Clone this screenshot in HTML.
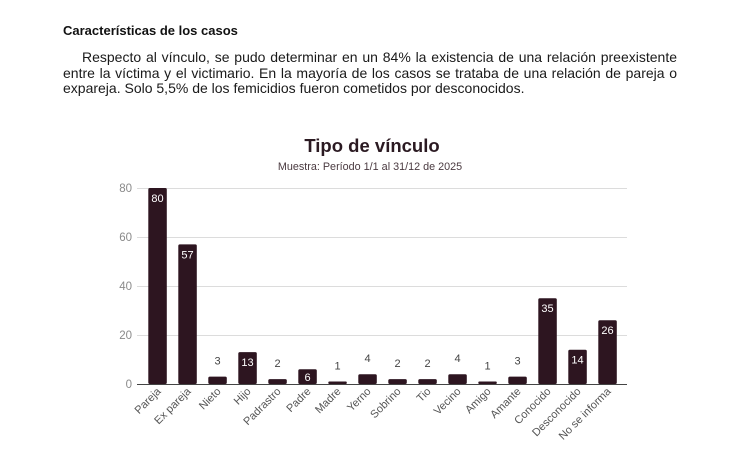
<!DOCTYPE html>
<html>
<head>
<meta charset="utf-8">
<style>
  html, body { margin: 0; padding: 0; background: #ffffff; }
  body { width: 730px; height: 467px; position: relative; overflow: hidden; font-family: "Liberation Sans", Arial, sans-serif; }
  .h { position: absolute; left: 63px; top: 23px; font-size: 13px; line-height: 15px; font-weight: bold; color: #111; white-space: nowrap; }
  .ln { position: absolute; font-size: 14px; line-height: 16px; color: #1a1a1a; white-space: nowrap; }
  .j { text-align: justify; text-align-last: justify; }
  svg { position: absolute; left: 0; top: 0; }
</style>
</head>
<body>
<div class="h">Características de los casos</div>
<div class="ln j" style="left:82px; top:49px; width:595px;">Respecto al vínculo, se pudo determinar en un 84% la existencia de una relación preexistente</div>
<div class="ln j" style="left:63px; top:64.5px; width:614px;">entre la víctima y el victimario. En la mayoría de los casos se trataba de una relación de pareja o</div>
<div class="ln" style="left:63px; top:80px;">expareja. Solo 5,5% de los femicidios fueron cometidos por desconocidos.</div>

<svg width="730" height="467" viewBox="0 0 730 467" xmlns="http://www.w3.org/2000/svg" font-family="Liberation Sans, Arial, sans-serif">
  <text x="372" y="152" text-anchor="middle" font-size="18.5" font-weight="bold" fill="#2b1a22">Tipo de vínculo</text>
  <text x="370" y="170" text-anchor="middle" font-size="10.8" fill="#4a3a40">Muestra: Período 1/1 al 31/12 de 2025</text>

  <!-- gridlines -->
  <g stroke="#dcdcdc" stroke-width="1">
    <line x1="137" y1="188.5" x2="627" y2="188.5"/>
    <line x1="137" y1="237.5" x2="627" y2="237.5"/>
    <line x1="137" y1="286.5" x2="627" y2="286.5"/>
    <line x1="137" y1="335.5" x2="627" y2="335.5"/>
  </g>

  <!-- y labels -->
  <g font-size="11.5" fill="#8a8a8a" text-anchor="end">
    <text x="132" y="192">80</text>
    <text x="132" y="241">60</text>
    <text x="132" y="290">40</text>
    <text x="132" y="339">20</text>
    <text x="132" y="388">0</text>
  </g>

  <!-- bars -->
  <g fill="#2d1520">
    <rect x="148.3" y="188" width="18.5" height="196" rx="1.5"/>
    <rect x="178.3" y="244.35" width="18.5" height="139.65" rx="1.5"/>
    <rect x="208.3" y="376.65" width="18.5" height="7.35" rx="1.5"/>
    <rect x="238.3" y="352.15" width="18.5" height="31.85" rx="1.5"/>
    <rect x="268.3" y="379.1" width="18.5" height="4.9" rx="1.5"/>
    <rect x="298.3" y="369.3" width="18.5" height="14.7" rx="1.5"/>
    <rect x="328.3" y="381.55" width="18.5" height="2.45" rx="1"/>
    <rect x="358.3" y="374.2" width="18.5" height="9.8" rx="1.5"/>
    <rect x="388.3" y="379.1" width="18.5" height="4.9" rx="1.5"/>
    <rect x="418.3" y="379.1" width="18.5" height="4.9" rx="1.5"/>
    <rect x="448.3" y="374.2" width="18.5" height="9.8" rx="1.5"/>
    <rect x="478.3" y="381.55" width="18.5" height="2.45" rx="1"/>
    <rect x="508.3" y="376.65" width="18.5" height="7.35" rx="1.5"/>
    <rect x="538.3" y="298.25" width="18.5" height="85.75" rx="1.5"/>
    <rect x="568.3" y="349.7" width="18.5" height="34.3" rx="1.5"/>
    <rect x="598.3" y="320.3" width="18.5" height="63.7" rx="1.5"/>
  </g>

  <!-- baseline -->
  <line x1="137" y1="384.5" x2="627" y2="384.5" stroke="#444" stroke-width="1"/>

  <!-- inside labels -->
  <g font-size="11" fill="#ffffff" text-anchor="middle">
    <text x="157.5" y="202">80</text>
    <text x="187.5" y="258.3">57</text>
    <text x="247.5" y="366">13</text>
    <text x="307.5" y="381">6</text>
    <text x="547.5" y="312.2">35</text>
    <text x="577.5" y="363.6">14</text>
    <text x="607.5" y="334.2">26</text>
  </g>

  <!-- outside labels -->
  <g font-size="11" fill="#444444" text-anchor="middle">
    <text x="217.5" y="364.6">3</text>
    <text x="277.5" y="367.1">2</text>
    <text x="337.5" y="369.5">1</text>
    <text x="367.5" y="362.2">4</text>
    <text x="397.5" y="367.1">2</text>
    <text x="427.5" y="367.1">2</text>
    <text x="457.5" y="362.2">4</text>
    <text x="487.5" y="369.5">1</text>
    <text x="517.5" y="364.6">3</text>
  </g>

  <!-- x labels -->
  <g font-size="11" fill="#555555" text-anchor="end">
    <text transform="translate(161.5,392) rotate(-45)">Pareja</text>
    <text transform="translate(191.5,392) rotate(-45)">Ex pareja</text>
    <text transform="translate(221.5,392) rotate(-45)">Nieto</text>
    <text transform="translate(251.5,392) rotate(-45)">Hijo</text>
    <text transform="translate(281.5,392) rotate(-45)">Padrastro</text>
    <text transform="translate(311.5,392) rotate(-45)">Padre</text>
    <text transform="translate(341.5,392) rotate(-45)">Madre</text>
    <text transform="translate(371.5,392) rotate(-45)">Yerno</text>
    <text transform="translate(401.5,392) rotate(-45)">Sobrino</text>
    <text transform="translate(431.5,392) rotate(-45)">Tio</text>
    <text transform="translate(461.5,392) rotate(-45)">Vecino</text>
    <text transform="translate(491.5,392) rotate(-45)">Amigo</text>
    <text transform="translate(521.5,392) rotate(-45)">Amante</text>
    <text transform="translate(551.5,392) rotate(-45)">Conocido</text>
    <text transform="translate(581.5,392) rotate(-45)">Desconocido</text>
    <text transform="translate(611.5,392) rotate(-45)">No se informa</text>
  </g>
</svg>
</body>
</html>
